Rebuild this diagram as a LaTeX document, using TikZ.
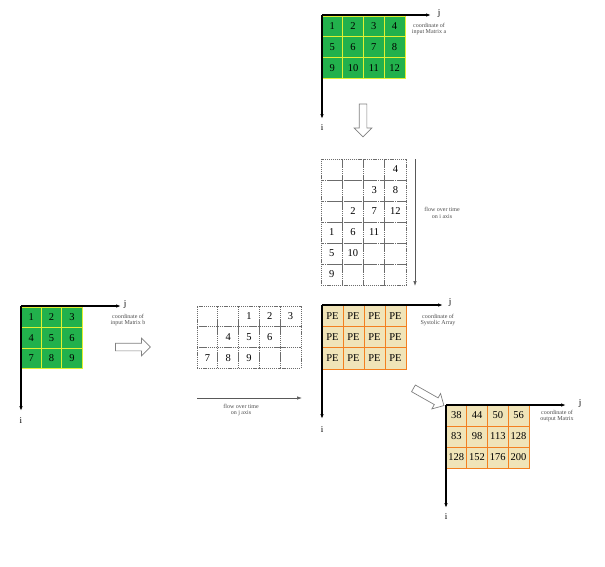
\documentclass[tikz,border=0pt]{standalone}
\usepackage{fontspec}
\setmainfont{Liberation Serif}
\usetikzlibrary{arrows.meta,shapes.arrows}

\definecolor{cellgreen}{RGB}{34,177,76}
\definecolor{cellline}{RGB}{226,240,50}
\definecolor{petan}{RGB}{240,228,184}
\definecolor{peline}{RGB}{243,128,32}

\tikzset{
  cell/.style={minimum width=#1, minimum height=21pt, inner sep=0pt,
    font=\fontsize{10.5}{12}\selectfont},
  gcell/.style={cell=20.75pt, draw=cellline, fill=cellgreen, line width=0.7pt},
  dcell/.style={cell=21pt, draw=gray!85!black, dash pattern=on 1.2pt off 0.9pt, line width=0.8pt},
  pcell/.style={cell=21pt, draw=peline, fill=petan, line width=0.7pt},
  axis/.style={-{Latex[length=5pt,width=3.5pt]}, line width=1.1pt},
  flow/.style={-{Latex[length=5pt,width=3.5pt]}, line width=0.7pt, draw=gray!70!black},
  note/.style={font=\fontsize{6}{6.8}\selectfont, text=gray!60!black, align=center},
  axlabel/.style={font=\fontsize{9}{10}\selectfont},
  hollow/.style={single arrow, draw=gray, fill=white, line width=0.7pt,
    inner sep=3.5pt, single arrow head extend=5pt, minimum height=#1}
}

\begin{document}
\begin{tikzpicture}[x=1pt,y=-1pt]
  \useasboundingbox (0,0) rectangle (605,566);

  % input matrix a
  \foreach \r in {1,2,3}
    \foreach \c in {1,...,4} {
      \pgfmathtruncatemacro\v{(\r-1)*4+\c}
      \node[gcell] (a-\r-\c) at (322+20.75*\c-10.4, 16+20.7*\r-10.35) {\v};
    }
  \coordinate (aO) at (322,15);
  \coordinate (aJ) at (431,15);
  \coordinate (aI) at (322,119);
  \draw[axis] (aO) -- (aJ);
  \draw[axis] (aO) -- (aI);
  \node[axlabel] (aj) at (439,13) {j};
  \node[axlabel] (ai) at (322,128) {i};
  \node[note] (anote) at (429,29) {coordinate of\\input Matrix a};

  \node[hollow=33pt, rotate=-90] (down) at (363,118.5) {};

  % skewed a over time
  \foreach \row [count=\r] in {{{},{},{},4},{{},{},3,8},{{},2,7,12},{1,6,11,{}},{5,10,{},{}},{9,{},{},{}}}
    \foreach \v [count=\c] in \row
      \node[dcell, minimum width=21.25pt] (s-\r-\c) at (321+21.25*\c-10.6, 159+21*\r-10.5) {\v};
  \coordinate (sT) at (415,159);
  \coordinate (sB) at (415,286);
  \draw[flow] (sT) -- (sB);
  \node[note] (snote) at (442,213) {flow over time\\on i axis};

  % input matrix b
  \foreach \r in {1,2,3}
    \foreach \c in {1,2,3} {
      \pgfmathtruncatemacro\v{(\r-1)*3+\c}
      \node[gcell, minimum width=20.4pt, minimum height=20.5pt] (b-\r-\c) at (21+20.4*\c-10.2, 307+20.5*\r-10.25) {\v};
    }
  \coordinate (bO) at (21,306);
  \coordinate (bJ) at (121,306);
  \coordinate (bI) at (21,411);
  \draw[axis] (bO) -- (bJ);
  \draw[axis] (bO) -- (bI);
  \node[axlabel] (bj) at (125,304) {j};
  \node[axlabel] (bi) at (21,421) {i};
  \node[note] (bnote) at (128,320) {coordinate of\\input Matrix b};

  \node[hollow=35pt] (right) at (131,347) {};

  % skewed b over time
  \foreach \row [count=\r] in {{{},{},1,2,3},{{},4,5,6,{}},{7,8,9,{},{}}}
    \foreach \v [count=\c] in \row
      \node[dcell, minimum width=20.8pt, minimum height=20.7pt] (t-\r-\c) at (197+20.8*\c-10.4, 306+20.7*\r-10.35) {\v};
  \coordinate (tL) at (197,398);
  \coordinate (tR) at (302,398);
  \draw[flow] (tL) -- (tR);
  \node[note] (tnote) at (241,410) {flow over time\\on j axis};

  % systolic array
  \foreach \r in {1,2,3}
    \foreach \c in {1,...,4}
      \node[pcell, minimum height=21.3pt] (p-\r-\c) at (322+21*\c-10.5, 305+21.3*\r-10.65) {PE};
  \coordinate (pO) at (322,305);
  \coordinate (pJ) at (443,305);
  \coordinate (pI) at (322,419);
  \draw[axis] (pO) -- (pJ);
  \draw[axis] (pO) -- (pI);
  \node[axlabel] (pj) at (450,302) {j};
  \node[axlabel] (pi) at (322,430) {i};
  \node[note] (pnote) at (438,320) {coordinate of\\Systolic Array};

  \node[hollow=35pt, rotate=-29.5] (diag) at (427,396) {};

  % output matrix
  \foreach \row [count=\r] in {{38,44,50,56},{83,98,113,128},{128,152,176,200}}
    \foreach \v [count=\c] in \row
      \node[pcell, minimum width=20.75pt] (o-\r-\c) at (446+20.75*\c-10.4, 405+21*\r-10.5) {\v};
  \coordinate (oO) at (446,405);
  \coordinate (oJ) at (566,405);
  \coordinate (oI) at (446,508);
  \draw[axis] (oO) -- (oJ);
  \draw[axis] (oO) -- (oI);
  \node[axlabel] (oj) at (580,403) {j};
  \node[axlabel] (oi) at (446,517) {i};
  \node[note] (onote) at (557,416) {coordinate of\\output Matrix};
\end{tikzpicture}
\end{document}
